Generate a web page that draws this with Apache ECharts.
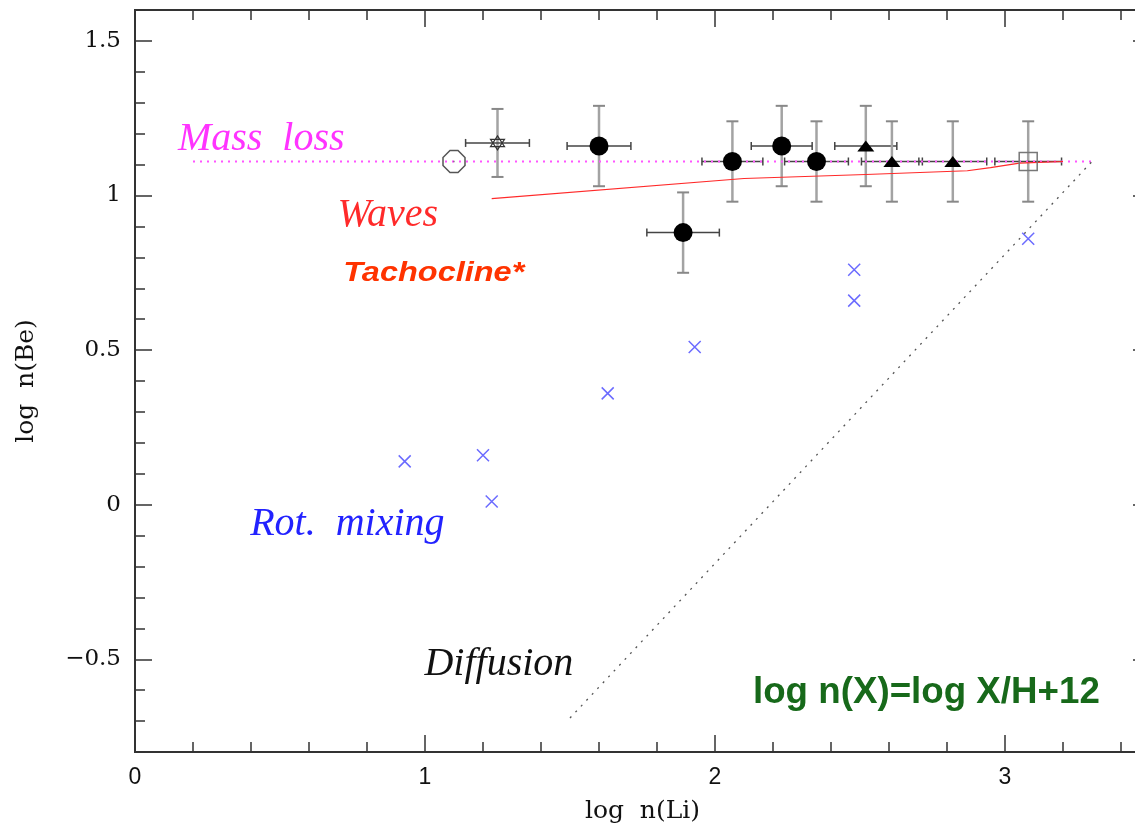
<!DOCTYPE html>
<html>
<head>
<meta charset="utf-8">
<title>log n(Be) vs log n(Li)</title>
<script src="https://cdn.jsdelivr.net/npm/echarts@6.0.0/dist/echarts.min.js"></script>
<style>
  html, body { margin: 0; padding: 0; background: #fff; overflow: hidden; }
  /* the plot box of the original runs a little past the right edge of the picture */
  #chart { width: 1150px; height: 829px; }
</style>
</head>
<body>
<div id="chart"></div>
<script>
// stars with error bars
var starX    = [1.25, 1.60, 1.89, 2.06, 2.23, 2.35, 2.52, 2.61, 2.82, 3.08];
var starY    = [1.17, 1.16, 0.88, 1.11, 1.16, 1.11, 1.16, 1.11, 1.11, 1.11];
var starXErr = [0.11, 0.11, 0.125, 0.105, 0.105, 0.11, 0.107, 0.105, 0.117, 0.115];
var starYErr = [0.11, 0.13, 0.13, 0.13, 0.13, 0.13, 0.13, 0.13, 0.13, 0.13];
var starKind = ['hex', 'circle', 'circle', 'circle', 'circle', 'circle', 'tri', 'tri', 'tri', 'square'];

// meteoritic point (open octagon)
var sunX = [1.10];
var sunY = [1.11];

// rotational mixing models (blue crosses)
var rotX = [0.93, 1.20, 1.23, 1.63, 1.93, 2.48, 2.48, 3.08];
var rotY = [0.14, 0.16, 0.01, 0.36, 0.51, 0.76, 0.66, 0.86];

// model curves
var wavesX = [1.23, 2.10, 2.52, 2.87, 2.95, 3.05, 3.20];
var wavesY = [0.99, 1.055, 1.068, 1.08, 1.09, 1.105, 1.11];
var massLossX = [0.2, 3.3];
var massLossY = [1.11, 1.11];
var diffusionX = [1.5, 3.3];
var diffusionY = [-0.69, 1.11];

// axis ticks
var yMajorTicks = [-0.5, 0, 0.5, 1, 1.5];

// annotations: text, left x, middle y (data units)
var noteText = ['Mass  loss', 'Waves', 'Tachocline*', 'Rot.  mixing', 'Diffusion', 'log n(X)=log X/H+12'];
var noteX    = [0.148, 0.698, 0.718, 0.397, 0.998, 2.131];
var noteY    = [1.18, 0.935, 0.748, -0.065, -0.516, -0.608];

var noteStyle = [
  { font: 'italic 40px "Liberation Serif"', fill: '#ff33ff', scaleX: 1 },
  { font: 'italic 40px "Liberation Serif"', fill: '#ff2a2a', scaleX: 1 },
  { font: 'italic bold 28px "Liberation Sans"', fill: '#ff3300', scaleX: 1.16 },
  { font: 'italic 40px "Liberation Serif"', fill: '#2222ff', scaleX: 1 },
  { font: 'italic 40px "Liberation Serif"', fill: '#111111', scaleX: 1 },
  { font: 'bold 36px "Liberation Sans"', fill: '#17691a', scaleX: 1.02 }
];

var kindSymbol = {
  hex: { symbol: 'path://M7,0 L14,11 L0,11 Z M0,3.5 L14,3.5 L7,14.5 Z', size: 14, fill: 'rgba(0,0,0,0)', stroke: '#333', width: 1.2 },
  circle: { symbol: 'circle', size: 19, fill: '#000', stroke: '#000', width: 0 },
  tri: { symbol: 'path://M0,10 L8,0 L16,10 Z', size: [17, 11], fill: '#000', stroke: '#000', width: 0 },
  square: { symbol: 'path://M0,0 L18,0 L18,18 L0,18 Z', size: 18, fill: 'rgba(0,0,0,0)', stroke: '#777', width: 1.5 }
};

var pairs = function (xs, ys) {
  return xs.map(function (x, i) { return [x, ys[i]]; });
};

var chart = echarts.init(document.getElementById('chart'));

var axisColor = '#333';
var lineStyle = { color: axisColor, width: 2 };
var tickStyle = { color: axisColor, width: 1.5 };
var titleStyle = { fontFamily: 'DejaVu Serif', fontSize: 25, color: '#111' };

function xAxisDef(pos, interval, tickLen, labels) {
  return {
    type: 'value', position: pos, min: 0, max: 3.5, interval: interval,
    axisLine: { show: true, onZero: false, lineStyle: lineStyle },
    axisTick: { show: true, inside: true, length: tickLen, lineStyle: tickStyle },
    splitLine: { show: false },
    axisLabel: labels ? {
      show: true, margin: 14, showMaxLabel: false,
      fontFamily: 'Liberation Sans', fontSize: 23, color: '#111'
    } : { show: false },
    name: labels ? 'log  n(Li)' : '',
    nameLocation: 'middle', nameGap: 47,
    nameTextStyle: titleStyle
  };
}

function yAxisDef(pos, major, labels) {
  var ax = {
    type: 'value', position: pos, min: -0.8, max: 1.6,
    axisLine: { show: true, onZero: false, lineStyle: lineStyle },
    splitLine: { show: false },
    axisLabel: { show: false }
  };
  if (major) {
    ax.axisTick = { show: true, inside: true, length: 17, lineStyle: tickStyle, customValues: yMajorTicks };
    if (labels) {
      ax.axisLabel = {
        show: true, margin: 14, customValues: yMajorTicks,
        fontFamily: 'DejaVu Serif', fontSize: 23, color: '#111',
        formatter: function (v) { return v < 0 ? '\u2212' + (-v) : String(v); }
      };
      ax.name = 'log  n(Be)';
      ax.nameLocation = 'middle';
      ax.nameGap = 96;
      ax.nameTextStyle = titleStyle;
    }
  } else {
    ax.interval = 0.1;
    ax.axisTick = { show: true, inside: true, length: 10, lineStyle: tickStyle };
  }
  return ax;
}

var starData = starX.map(function (x, i) {
  var k = kindSymbol[starKind[i]];
  return {
    value: [x, starY[i]],
    symbol: k.symbol,
    symbolSize: k.size,
    itemStyle: { color: k.fill, borderColor: k.stroke, borderWidth: k.width, opacity: 1 }
  };
});

var errData = starX.map(function (x, i) {
  return [x, starY[i], starXErr[i], starYErr[i]];
});

var option = {
  animation: false,
  backgroundColor: '#fff',
  grid: { left: 135, right: 0, top: 10, bottom: 75, containLabel: false },
  xAxis: [
    xAxisDef('bottom', 1, 17, true),
    xAxisDef('bottom', 0.2, 10, false),
    xAxisDef('top', 1, 17, false),
    xAxisDef('top', 0.2, 10, false)
  ],
  yAxis: [
    yAxisDef('left', true, true),
    yAxisDef('left', false, false),
    yAxisDef('right', true, false),
    yAxisDef('right', false, false)
  ],
  series: [
    {
      name: 'Mass loss', type: 'line', data: pairs(massLossX, massLossY),
      symbol: 'none', lineStyle: { color: '#ff55ff', width: 1.8, type: [2, 5] }
    },
    {
      name: 'Diffusion', type: 'line', data: pairs(diffusionX, diffusionY),
      symbol: 'none', lineStyle: { color: '#555', width: 1.3, type: [2, 6] }
    },
    {
      name: 'Waves', type: 'line', data: pairs(wavesX, wavesY),
      symbol: 'none', lineStyle: { color: '#ff2a2a', width: 1.2 }
    },
    {
      name: 'errors', type: 'custom', data: errData,
      renderItem: function (params, api) {
        var x = api.value(0), y = api.value(1), ex = api.value(2), ey = api.value(3);
        var l = api.coord([x - ex, y]), r = api.coord([x + ex, y]);
        var t = api.coord([x, y + ey]), b = api.coord([x, y - ey]);
        var seg = function (x1, y1, x2, y2, color, w) {
          return { type: 'line', shape: { x1: x1, y1: y1, x2: x2, y2: y2 }, style: { stroke: color, lineWidth: w } };
        };
        return {
          type: 'group',
          children: [
            seg(t[0], t[1], b[0], b[1], '#a3a3a3', 2.5),
            seg(t[0] - 6, t[1], t[0] + 6, t[1], '#888', 2),
            seg(b[0] - 6, b[1], b[0] + 6, b[1], '#888', 2),
            seg(l[0], l[1], r[0], r[1], '#444', 1.5),
            seg(l[0], l[1] - 4, l[0], l[1] + 4, '#444', 1.5),
            seg(r[0], r[1] - 4, r[0], r[1] + 4, '#444', 1.5)
          ]
        };
      }
    },
    {
      name: 'stars', type: 'scatter', data: starData, z: 5
    },
    {
      name: 'meteoritic', type: 'scatter', data: pairs(sunX, sunY), z: 5,
      symbol: 'path://M7,0 L15,0 L22,7 L22,15 L15,22 L7,22 L0,15 L0,7 Z M10.5,11 L11.5,11',
      symbolSize: 22,
      itemStyle: { color: 'rgba(0,0,0,0)', borderColor: '#555', borderWidth: 1.5, opacity: 1 }
    },
    {
      name: 'Rot. mixing', type: 'scatter', data: pairs(rotX, rotY), z: 5,
      symbol: 'path://M0,0 L12,12 M12,0 L0,12',
      symbolSize: 12,
      itemStyle: { color: 'rgba(0,0,0,0)', borderColor: '#6b6bff', borderWidth: 1.5, opacity: 1 }
    }
  ]
};

chart.setOption(option);

// annotations placed through the axes
var notes = noteText.map(function (txt, i) {
  var p = chart.convertToPixel({ xAxisIndex: 0, yAxisIndex: 0 }, [noteX[i], noteY[i]]);
  var s = noteStyle[i];
  return {
    type: 'text', x: p[0], y: p[1], scaleX: s.scaleX, z: 10,
    style: { text: txt, font: s.font, fill: s.fill, align: 'left', verticalAlign: 'middle' }
  };
});
chart.setOption({ graphic: notes });
</script>
</body>
</html>
